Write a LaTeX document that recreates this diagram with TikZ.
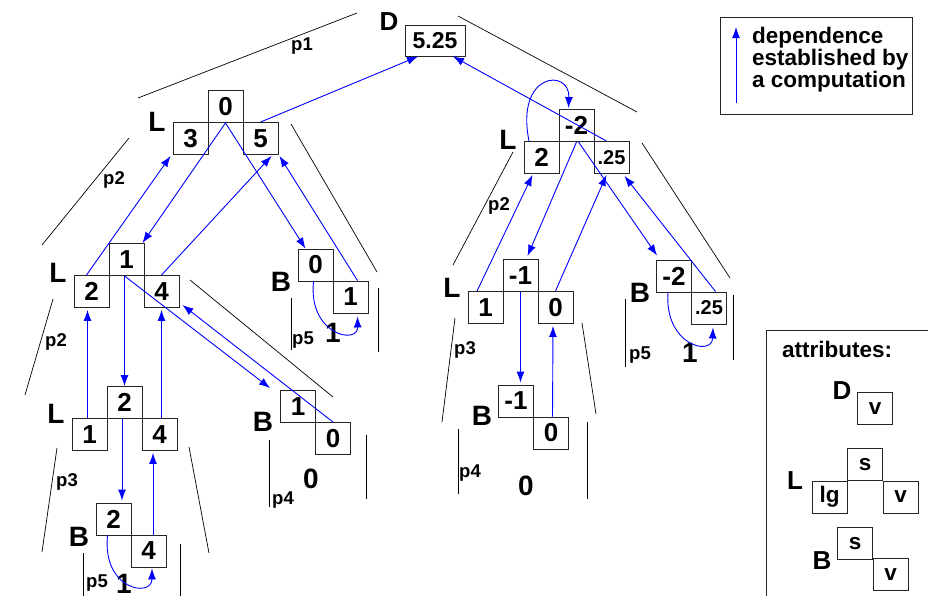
\documentclass[tikz,border=0pt]{standalone}
\usepackage{fontspec}
\setmainfont{Liberation Sans}
\usetikzlibrary{arrows.meta}
\newcommand\fcell{\fontsize{26}{26}\selectfont\bfseries}
\newcommand\fsmall{\fontsize{20}{20}\selectfont\bfseries}
\newcommand\fbig{\fontsize{28}{28}\selectfont\bfseries}
\newcommand\fpl{\fontsize{18.5}{18.5}\selectfont\bfseries}
\newcommand\fleg{\fontsize{22.5}{22.5}\selectfont\bfseries}
\tikzset{
  cell/.style={draw=black!85, line width=0.9pt, minimum width=35pt, minimum height=32pt, inner sep=0pt, font=\fcell},
  scell/.style={cell, font=\fsmall},
  lbl/.style={inner sep=0pt, font=\fbig},
  plbl/.style={inner sep=0pt, font=\fpl},
  legtxt/.style={inner sep=0pt, font=\fleg, anchor=base west},
  dep/.style={blue, line width=0.9pt, -{Latex[length=11pt,width=8pt]}},
  brk/.style={black, line width=0.7pt}
}
\begin{document}
\begin{tikzpicture}[x=1pt,y=-1pt]
\useasboundingbox (0,0) rectangle (928,595);
% ---------- D ----------
\node[cell, minimum width=60pt, minimum height=31pt, font=\fontsize{23}{23}\selectfont\bfseries] (dv) at (435,40.5) {5.25};
\node[lbl, font=\fontsize{26}{26}\selectfont\bfseries] (dlab) at (389,22) {D};
\node[plbl] (p1) at (302,46) {p1};
% ---------- top-left L ----------
\node[cell] (tlt) at (225.5,106.5) {0};
\node[cell] (tll) at (190.5,138.5) {3};
\node[cell] (tlr) at (260.5,138.5) {5};
\node[lbl] (tlL) at (157,122) {L};
\node[plbl] (p2a) at (114,180) {p2};
% ---------- mid-left L ----------
\node[cell] (mlt) at (126.5,259.5) {1};
\node[cell] (mll) at (91.5,291.5) {2};
\node[cell] (mlr) at (161.5,291.5) {4};
\node[lbl] (mlL) at (58,273) {L};
\node[plbl] (p2b) at (56,342) {p2};
% ---------- lower-left L ----------
\node[cell] (llt) at (124.5,402.5) {2};
\node[cell] (lll) at (89.5,434.5) {1};
\node[cell] (llr) at (159.5,434.5) {4};
\node[lbl] (llL) at (56,414) {L};
\node[plbl] (p3a) at (67,482) {p3};
% ---------- B1 ----------
\node[cell] (b1t) at (315.5,265) {0};
\node[cell] (b1b) at (350.5,297) {1};
\node[lbl] (b1B) at (281,282) {B};
\node[plbl] (p5a) at (303,340) {p5};
\node[lbl] (v1) at (333,333) {1};
% ---------- B2 ----------
\node[cell] (b2t) at (298,406.5) {1};
\node[cell] (b2b) at (333,438.5) {0};
\node[lbl] (b2B) at (263,422) {B};
\node[plbl] (p4a) at (283,500) {p4};
\node[lbl] (v2) at (311,479) {0};
% ---------- B3 ----------
\node[cell] (b3t) at (113.5,519) {2};
\node[cell] (b3b) at (148.5,551) {4};
\node[lbl] (b3B) at (79,537) {B};
\node[plbl] (p5b) at (97,583) {p5};
\node[lbl] (v3) at (124,584) {1};
% ---------- right L ----------
\node[cell] (rlt) at (576.5,125.5) {-2};
\node[cell] (rll) at (541.5,157.5) {2};
\node[scell] (rlr) at (611.5,157.5) {.25};
\node[lbl] (rlL) at (508,140) {L};
\node[plbl] (p2c) at (499,206) {p2};
% ---------- mid-right L ----------
\node[cell] (mrlt) at (520.5,275.5) {-1};
\node[cell] (mrll) at (485.5,307.5) {1};
\node[cell] (mrlr) at (555.5,307.5) {0};
\node[lbl] (mrlL) at (452,288) {L};
\node[plbl] (p3b) at (465,350) {p3};
% ---------- B4 ----------
\node[cell] (b4t) at (674,276) {-2};
\node[scell] (b4b) at (709,308) {.25};
\node[lbl] (b4B) at (640,293) {B};
\node[plbl] (p5c) at (640,355) {p5};
\node[lbl] (v4) at (690,353) {1};
% ---------- B5 ----------
\node[cell] (b5t) at (516,401) {-1};
\node[cell] (b5b) at (551,433) {0};
\node[lbl] (b5B) at (482,416) {B};
\node[plbl] (p4b) at (470,473) {p4};
\node[lbl] (v5) at (526,486) {0};
% ---------- black subtree lines ----------
\draw[brk] (138,98) -- (357,13);
\draw[brk] (458,16) -- (637,112);
\draw[brk] (129,138) -- (42,245);
\draw[brk] (291,124) -- (377,272);
\draw[brk] (53,299) -- (25,395);
\draw[brk] (190,280) -- (333,397);
\draw[brk] (291,298) -- (291,350);
\draw[brk] (378,288) -- (378,352);
\draw[brk] (269,440) -- (269,507);
\draw[brk] (366,435) -- (366,499);
\draw[brk] (57,448) -- (42,552);
\draw[brk] (189,447) -- (209,553);
\draw[brk] (83,553) -- (83,600);
\draw[brk] (180,544) -- (180,600);
\draw[brk] (513,152) -- (453,265);
\draw[brk] (642,143) -- (730,278);
\draw[brk] (455,318) -- (442,422);
\draw[brk] (582,323) -- (596,414);
\draw[brk] (625,299) -- (625,367);
\draw[brk] (733,295) -- (733,360);
\draw[brk] (458,429) -- (458,494);
\draw[brk] (587,422) -- (587,499);
% ---------- dependence arrows: left tree ----------
\draw[dep] (tlr.north) -- ([xshift=-17pt]dv.south);
\draw[dep] ([xshift=-5pt]rlr.north) -- ([xshift=18pt]dv.south);
\draw[dep] ([xshift=-5pt]mll.north) -- ([xshift=-2pt,yshift=-1pt]tll.south west);
\draw[dep] (tlt.south) -- ([xshift=-2pt]mlt.north east);
\draw[dep] (mlr.north) -- ([xshift=11pt,yshift=-1pt]tlr.south);
\draw[dep] ([xshift=7pt]b1b.north) -- ([xshift=1pt,yshift=-1pt]tlr.south east);
\draw[dep] (tlt.south) -- ([xshift=-10pt]b1t.north);
\draw[dep] ([xshift=-2pt]mlt.south) -- (llt.north);
\draw[dep] ([xshift=-2pt]mlt.south) -- ([xshift=-10pt,yshift=2pt]b2t.north west);
\draw[dep] (b2b.north) -- ([xshift=3pt,yshift=3pt]mlr.south east);
\draw[dep] ([xshift=-2pt]lll.north) -- ([xshift=-4pt,yshift=-2pt]mll.south);
\draw[dep] ([xshift=2pt]llr.north) -- ([yshift=-2pt]mlr.south);
\draw[dep] ([xshift=-2.5pt]llt.south) -- ([xshift=8.5pt,yshift=2pt]b3t.north);
\draw[dep] ([xshift=4.5pt]b3b.north) -- ([xshift=-6.5pt,yshift=-2pt]llr.south);
\draw[dep] ([xshift=-2pt]b1t.south) .. controls (308,335) and (358,345) .. ([xshift=7pt,yshift=-3pt]b1b.south);
\draw[dep] ([xshift=-6pt]b3t.south) .. controls (102,590) and (152,598) .. ([xshift=3.5pt,yshift=-1pt]b3b.south);
% ---------- dependence arrows: right tree ----------
\draw[dep] ([xshift=-12.5pt]rll.north) .. controls (515,72) and (570,68) .. ([xshift=-8pt,yshift=1pt]rlt.north);
\draw[dep] ([xshift=-8.5pt]mrll.north) -- ([xshift=-9pt,yshift=-1pt]rll.south);
\draw[dep] (rlt.south) -- ([xshift=7pt,yshift=3pt]mrlt.north);
\draw[dep] (mrlr.north) -- ([xshift=-5pt,yshift=-1pt]rlr.south);
\draw[dep] ([xshift=2pt]rlt.south) -- ([xshift=1pt,yshift=4pt]b4t.north west);
\draw[dep] ([xshift=6.5pt]b4b.north) -- ([xshift=-5pt,yshift=-2pt]rlr.south east);
\draw[dep] ([xshift=1.5pt]b5b.north) -- ([xshift=-2.5pt,yshift=-2pt]mrlr.south);
\draw[dep] (mrlt.south) -- ([xshift=4.5pt,yshift=2pt]b5t.north);
\draw[dep] ([xshift=-6pt]b4t.south) .. controls (664,345) and (712,357) .. ([xshift=4pt,yshift=-3pt]b4b.south);
% ---------- legend 1 ----------
\draw[black!85, line width=0.9pt] (720,17) rectangle (912,114);
\coordinate (la1) at (736,103);
\coordinate (la2) at (736,27);
\draw[dep] (la1) -- (la2);
\node[legtxt] (lt1) at (752,43) {dependence};
\node[legtxt] (lt2) at (752,65) {established by};
\node[legtxt] (lt3) at (752,87) {a computation};
% ---------- legend 2 ----------
\draw[black!85, line width=0.9pt] (766,600) -- (766,330) -- (930,330);
\node[legtxt] (attr) at (782,357) {attributes:};
\node[lbl, font=\fontsize{26}{26}\selectfont\bfseries] (aD) at (842,391) {D};
\node[cell, font=\fleg] (aDv) at (875,408.5) {v};
\node[lbl, font=\fontsize{26}{26}\selectfont\bfseries] (aL) at (795,481) {L};
\node[cell, font=\fleg] (aLs) at (865,464.5) {s};
\node[cell, font=\fleg] (aLl) at (829.5,497) {lg};
\node[cell, font=\fleg] (aLv) at (900.5,497) {v};
\node[lbl, font=\fontsize{26}{26}\selectfont\bfseries] (aB) at (822,561) {B};
\node[cell, font=\fleg] (aBs) at (855,543.5) {s};
\node[cell, font=\fleg] (aBv) at (890.5,574.5) {v};
\end{tikzpicture}
\end{document}
